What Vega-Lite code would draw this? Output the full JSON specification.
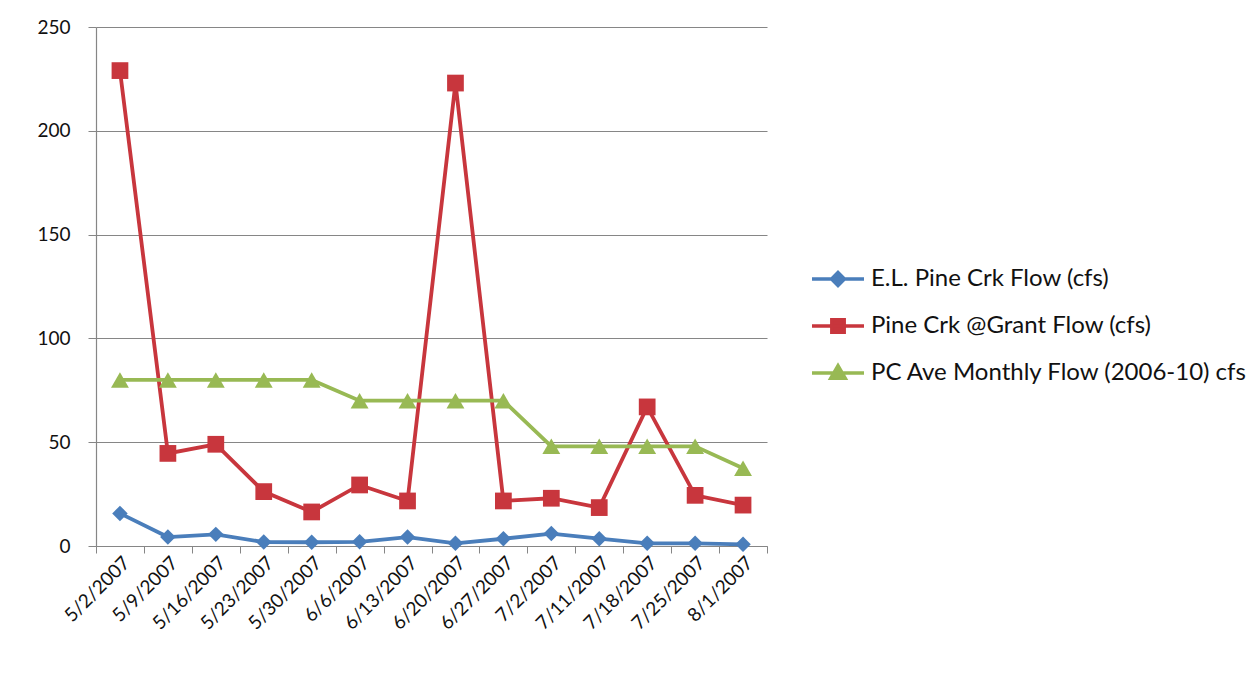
{
  "$schema": "https://vega.github.io/schema/vega-lite/v6.json",
  "autosize": {"type": "none"},
  "width": 671,
  "height": 519,
  "padding": {"left": 96, "top": 27, "right": 486, "bottom": 130},
  "background": "white",
  "config": {
    "font": "Lato",
    "view": {"stroke": null},
    "axis": {"labelFont": "Lato", "labelColor": "#111111", "labelFontSize": 19, "domainColor": "#868686", "tickColor": "#868686", "gridColor": "#868686", "title": null}
  },
  "data": {
    "values": [
      {"date": "5/2/2007", "series": "E.L. Pine Crk Flow (cfs)", "value": 15.7},
      {"date": "5/9/2007", "series": "E.L. Pine Crk Flow (cfs)", "value": 4.3},
      {"date": "5/16/2007", "series": "E.L. Pine Crk Flow (cfs)", "value": 5.6},
      {"date": "5/23/2007", "series": "E.L. Pine Crk Flow (cfs)", "value": 1.9},
      {"date": "5/30/2007", "series": "E.L. Pine Crk Flow (cfs)", "value": 1.8},
      {"date": "6/6/2007", "series": "E.L. Pine Crk Flow (cfs)", "value": 2.0},
      {"date": "6/13/2007", "series": "E.L. Pine Crk Flow (cfs)", "value": 4.3},
      {"date": "6/20/2007", "series": "E.L. Pine Crk Flow (cfs)", "value": 1.3},
      {"date": "6/27/2007", "series": "E.L. Pine Crk Flow (cfs)", "value": 3.5},
      {"date": "7/2/2007", "series": "E.L. Pine Crk Flow (cfs)", "value": 6.0},
      {"date": "7/11/2007", "series": "E.L. Pine Crk Flow (cfs)", "value": 3.5},
      {"date": "7/18/2007", "series": "E.L. Pine Crk Flow (cfs)", "value": 1.3},
      {"date": "7/25/2007", "series": "E.L. Pine Crk Flow (cfs)", "value": 1.3},
      {"date": "8/1/2007", "series": "E.L. Pine Crk Flow (cfs)", "value": 0.8},
      {"date": "5/2/2007", "series": "Pine Crk @Grant Flow (cfs)", "value": 229},
      {"date": "5/9/2007", "series": "Pine Crk @Grant Flow (cfs)", "value": 44.6},
      {"date": "5/16/2007", "series": "Pine Crk @Grant Flow (cfs)", "value": 49},
      {"date": "5/23/2007", "series": "Pine Crk @Grant Flow (cfs)", "value": 26.2},
      {"date": "5/30/2007", "series": "Pine Crk @Grant Flow (cfs)", "value": 16.4},
      {"date": "6/6/2007", "series": "Pine Crk @Grant Flow (cfs)", "value": 29.4},
      {"date": "6/13/2007", "series": "Pine Crk @Grant Flow (cfs)", "value": 21.7},
      {"date": "6/20/2007", "series": "Pine Crk @Grant Flow (cfs)", "value": 223},
      {"date": "6/27/2007", "series": "Pine Crk @Grant Flow (cfs)", "value": 21.7},
      {"date": "7/2/2007", "series": "Pine Crk @Grant Flow (cfs)", "value": 23},
      {"date": "7/11/2007", "series": "Pine Crk @Grant Flow (cfs)", "value": 18.5},
      {"date": "7/18/2007", "series": "Pine Crk @Grant Flow (cfs)", "value": 67},
      {"date": "7/25/2007", "series": "Pine Crk @Grant Flow (cfs)", "value": 24.4},
      {"date": "8/1/2007", "series": "Pine Crk @Grant Flow (cfs)", "value": 19.7},
      {"date": "5/2/2007", "series": "PC Ave Monthly Flow (2006-10) cfs", "value": 80},
      {"date": "5/9/2007", "series": "PC Ave Monthly Flow (2006-10) cfs", "value": 80},
      {"date": "5/16/2007", "series": "PC Ave Monthly Flow (2006-10) cfs", "value": 80},
      {"date": "5/23/2007", "series": "PC Ave Monthly Flow (2006-10) cfs", "value": 80},
      {"date": "5/30/2007", "series": "PC Ave Monthly Flow (2006-10) cfs", "value": 80},
      {"date": "6/6/2007", "series": "PC Ave Monthly Flow (2006-10) cfs", "value": 70},
      {"date": "6/13/2007", "series": "PC Ave Monthly Flow (2006-10) cfs", "value": 70},
      {"date": "6/20/2007", "series": "PC Ave Monthly Flow (2006-10) cfs", "value": 70},
      {"date": "6/27/2007", "series": "PC Ave Monthly Flow (2006-10) cfs", "value": 70},
      {"date": "7/2/2007", "series": "PC Ave Monthly Flow (2006-10) cfs", "value": 48},
      {"date": "7/11/2007", "series": "PC Ave Monthly Flow (2006-10) cfs", "value": 48},
      {"date": "7/18/2007", "series": "PC Ave Monthly Flow (2006-10) cfs", "value": 48},
      {"date": "7/25/2007", "series": "PC Ave Monthly Flow (2006-10) cfs", "value": 48},
      {"date": "8/1/2007", "series": "PC Ave Monthly Flow (2006-10) cfs", "value": 37.5}
    ]
  },
  "encoding": {
    "x": {
      "field": "date", "type": "ordinal", "sort": null, "bandPosition": 0.5,
      "scale": {"type": "band", "paddingInner": 0, "paddingOuter": 0},
      "axis": {"labelAngle": -45, "labelAlign": "right", "labelBaseline": "top", "labelPadding": 0, "labelFontSize": 19, "tickBand": "extent", "tickSize": 7, "domainWidth": 1.2, "labelOffset": 0}
    },
    "y": {
      "field": "value", "type": "quantitative",
      "scale": {"domain": [0, 250], "nice": false},
      "axis": {"values": [0, 50, 100, 150, 200, 250], "tickSize": 8, "labelPadding": 18, "labelFontSize": 19, "grid": true, "gridWidth": 1.2, "domainWidth": 1.2}
    },
    "color": {
      "field": "series", "type": "nominal", "sort": null,
      "scale": {"range": ["#4A7EBB", "#C8363D", "#98B954"]},
      "legend": {
        "title": null, "orient": "none", "legendX": 714, "legendY": 224,
        "labelFont": "Lato", "labelFontSize": 24, "labelColor": "#111111", "labelLimit": 500,
        "symbolSize": 2704, "symbolStrokeWidth": 3, "rowPadding": 5, "labelOffset": 5,
        "encode": {"symbols": {"update": {
          "shape": {"signal": "indexof(datum.value, 'E.L.') === 0 ? 'M-1,0H1M0,-0.25L0.25,0L0,0.25L-0.25,0Z' : indexof(datum.value, 'Pine') === 0 ? 'M-1,0H1M-0.24,-0.24H0.24V0.24H-0.24Z' : 'M-1,0H1M0,-0.28L0.28,0.2H-0.28Z'"},
          "strokeWidth": {"value": 3.4},
          "opacity": {"value": 1}
        }}}
      }
    }
  },
  "layer": [
    {"mark": {"type": "line", "strokeWidth": 3.8}, "encoding": {"detail": {"field": "series"}}},
    {
      "mark": {"type": "point", "filled": true, "opacity": 1},
      "encoding": {
        "shape": {"field": "series", "type": "nominal", "sort": null, "scale": {"range": ["diamond", "square", "triangle-up"]}, "legend": null},
        "size": {"field": "series", "type": "nominal", "sort": null, "scale": {"range": [240, 320, 270]}, "legend": null}
      }
    }
  ]
}
